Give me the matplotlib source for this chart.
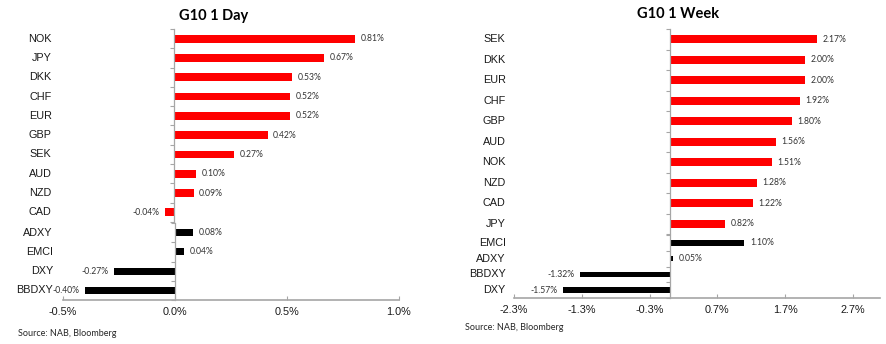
import numpy as np
import matplotlib
matplotlib.use("Agg")
import matplotlib.pyplot as plt
from matplotlib.transforms import blended_transform_factory

# data (% change)
day_g10 = ['NOK', 'JPY', 'DKK', 'CHF', 'EUR', 'GBP', 'SEK', 'AUD', 'NZD', 'CAD']
day_g10_vals = [0.81, 0.67, 0.53, 0.52, 0.52, 0.42, 0.27, 0.10, 0.09, -0.04]
day_idx = ['ADXY', 'EMCI', 'DXY', 'BBDXY']
day_idx_vals = [0.08, 0.04, -0.27, -0.40]
day_ticks = [-0.5, 0.0, 0.5, 1.0]

week_g10 = ['SEK', 'DKK', 'EUR', 'CHF', 'GBP', 'AUD', 'NOK', 'NZD', 'CAD', 'JPY']
week_g10_vals = [2.17, 2.00, 2.00, 1.92, 1.80, 1.56, 1.51, 1.28, 1.22, 0.82]
week_idx = ['EMCI', 'ADXY', 'BBDXY', 'DXY']
week_idx_vals = [1.10, 0.05, -1.32, -1.57]
week_ticks = [-2.3, -1.3, -0.3, 0.7, 1.7, 2.7]

W, H = 887, 344
GRAY = '#A6A6A6'
TXT = '#333333'
LBL_FONT = ['Liberation Sans', 'DejaVu Sans']
VAL_FONT = ['Lato', 'DejaVu Sans']

fig = plt.figure(figsize=(W / 100, H / 100), dpi=100)


def make_ax(x0, x1, y0, y1):
    # pixel box -> figure fraction
    return fig.add_axes([x0 / W, 1 - y1 / H, (x1 - x0) / W, (y1 - y0) / H])


def bars(ax, names, vals, color, xlim, height, lab_off, bottom=False, ticks=None):
    n = len(names)
    pos = np.arange(n)
    ax.barh(pos, vals, height=height, color=color)
    ax.set_xlim(*xlim)
    ax.set_ylim(n - 0.5, -0.5)
    for s in ['top', 'right']:
        ax.spines[s].set_visible(False)
    ax.spines['left'].set_position(('data', 0))
    ax.spines['left'].set_color(GRAY)
    ax.spines['left'].set_linewidth(0.9)
    ax.set_yticks(pos)
    ax.set_yticks(np.arange(n + 1) - 0.5, minor=True)
    ax.tick_params(axis='y', which='major', length=0, labelleft=False)
    ax.tick_params(axis='y', which='minor', length=3, width=0.8, color=GRAY, direction='out')
    tr = blended_transform_factory(ax.transAxes, ax.transData)
    for p, name, v in zip(pos, names, vals):
        ax.annotate(name, (0, p), xycoords=tr, xytext=(-lab_off, 0), textcoords='offset points',
                    ha='right', va='center', fontsize=7.8, family=LBL_FONT, color='#1a1a1a')
        if v >= 0:
            ax.annotate(f'{v:.2f}%', (v, p), xytext=(4, 0), textcoords='offset points',
                        ha='left', va='center', fontsize=6.2, family=VAL_FONT, color=TXT)
        else:
            ax.annotate(f'{v:.2f}%', (v, p), xytext=(-4, 0), textcoords='offset points',
                        ha='right', va='center', fontsize=6.2, family=VAL_FONT, color=TXT)
    if bottom:
        ax.spines['bottom'].set_color(GRAY)
        ax.spines['bottom'].set_linewidth(1.2)
        ax.set_xticks(ticks)
        ax.set_xticklabels([f'{t:.1f}%' for t in ticks], fontsize=7.8, family=LBL_FONT, color='#1a1a1a')
        ax.tick_params(axis='x', direction='in', length=3, width=0.8, color=GRAY, pad=5)
    else:
        ax.spines['bottom'].set_visible(False)
        ax.set_xticks([])
    ax.patch.set_alpha(0)


# left panel: G10 1 Day
ax1 = make_ax(61.4, 397.7, 29, 222)
bars(ax1, day_g10, day_g10_vals, '#FF0000', (-0.5, 1.0), 0.4, 7)
ax2 = make_ax(62.7, 399, 223, 300)
bars(ax2, day_idx, day_idx_vals, '#000000', (-0.5, 1.0), 0.36, 7, bottom=True, ticks=day_ticks)

# right panel: G10 1 Week
ax3 = make_ax(514, 880, 29, 234)
bars(ax3, week_g10, week_g10_vals, '#FF0000', (-2.3, 3.1), 0.38, 6)
ax4 = make_ax(514, 880, 235, 298)
bars(ax4, week_idx, week_idx_vals, '#000000', (-2.3, 3.1), 0.36, 6, bottom=True, ticks=week_ticks)

fig.text(213.5 / W, 1 - 16 / H, 'G10 1 Day', ha='center', va='center', fontsize=10.5,
         fontweight='bold', family=VAL_FONT, color='black')
fig.text(678 / W, 1 - 14 / H, 'G10 1 Week', ha='center', va='center', fontsize=10.5,
         fontweight='bold', family=VAL_FONT, color='black')
fig.text(18 / W, 1 - 333 / H, 'Source: NAB, Bloomberg', ha='left', va='center', fontsize=6.5,
         family=VAL_FONT, color='#262626')
fig.text(465 / W, 1 - 327 / H, 'Source: NAB, Bloomberg', ha='left', va='center', fontsize=6.5,
         family=VAL_FONT, color='#262626')

fig.savefig('out.png', dpi=100, facecolor='white')
